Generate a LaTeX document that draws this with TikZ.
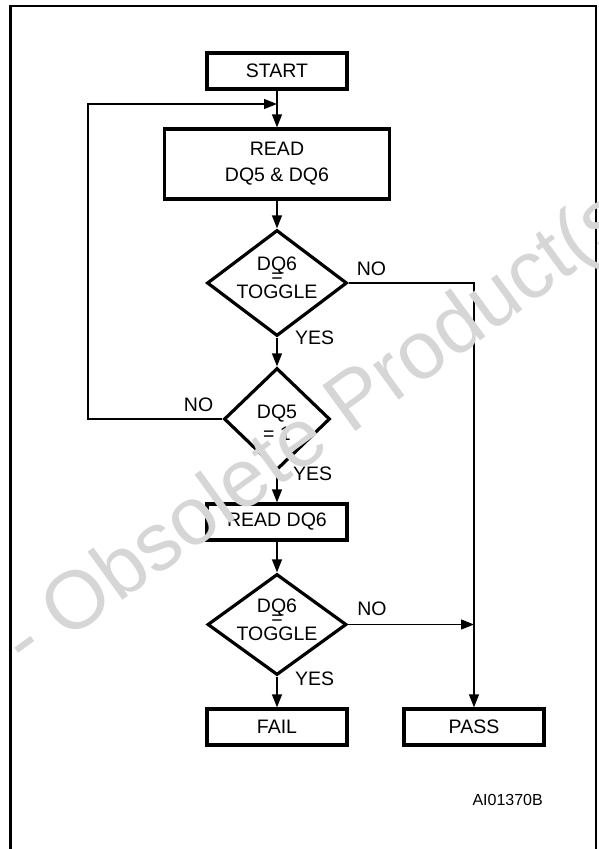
\documentclass[tikz,border=0pt]{standalone}
\usepackage{fontspec}
\setmainfont{Liberation Sans}
\definecolor{wmgray}{HTML}{D6D6D6}
\usetikzlibrary{arrows.meta, shapes.geometric}

\begin{document}
\begin{tikzpicture}[x=1pt, y=-1pt,
  font=\fontsize{19.5}{23.4}\selectfont,
  wire/.style={line width=1.3pt},
  flow/.style={wire, -{Triangle[length=13pt, width=10pt]}},
  stepbox/.style={draw, line width=3.2pt, minimum width=140pt, minimum height=36pt, inner sep=0pt, align=center},
  decision/.style={draw, diamond, line width=3.2pt, inner sep=0pt},
  dtext/.style={inner sep=0pt, align=center},
  lbl/.style={inner sep=0pt, anchor=base west}]
  \useasboundingbox (0,0) rectangle (599,849);
  \clip (0,0) rectangle (599,849);
  % frame
  \draw[line width=2.5pt] (10.5,860) -- (10.5,6) -- (596,6) -- (596,860);
  % boxes
  \node[stepbox] (start) at (277,71) {START};
  \node[stepbox, minimum width=225pt, minimum height=70pt, font=\fontsize{19.5}{26}\selectfont] (read) at (277,164) {READ\\DQ5 \& DQ6};
  \node[stepbox] (readb) at (277,522) {READ DQ6};
  \node[stepbox] (fail) at (277,727) {FAIL};
  \node[stepbox] (pass) at (474,727) {PASS};
  % decisions
  \node[decision, minimum width=140pt, minimum height=106pt] (tga) at (277,283) {};
  \node[dtext, yshift=5pt] (tgat) at (tga) {DQ6\\[-11.5pt]=\\[-7.5pt]TOGGLE};
  \node[decision, minimum width=106pt, minimum height=102pt] (dqf) at (277,419) {};
  \node[dtext, yshift=-4pt] (dqft) at (dqf) {DQ5\\[-1.4pt]= 1};
  \node[decision, minimum width=139pt, minimum height=101pt] (tgb) at (277,624.5) {};
  \node[dtext, yshift=5pt] (tgbt) at (tgb) {DQ6\\[-11.5pt]=\\[-7.5pt]TOGGLE};
  % connectors
  \coordinate (join) at (277,104);
  \coordinate (loopc) at (88,104);
  \draw[flow] (start.south) -- (read.north);
  \draw[flow] (dqf.west) -| (loopc) -- (join);
  \draw[flow] (read.south) -- (tga.north);
  \draw[flow] (tga.south) -- (dqf.north);
  \draw[flow] (tga.east) -| (pass.north);
  \draw[flow] (dqf.south) -- (readb.north);
  \draw[flow] (readb.south) -- (tgb.north);
  \draw[flow] (tgb.south) -- (fail.north);
  \draw[flow] (tgb.east) -- (tgb.east -| pass.north);
  % labels
  \node[lbl] (noa) at ([xshift=8pt, yshift=8pt]tga.east) {NO};
  \node[lbl] (yesa) at ([xshift=18pt, yshift=-7pt]tga.south) {YES};
  \node[lbl, anchor=base east] (nof) at ([xshift=-9pt, yshift=8pt]dqf.west) {NO};
  \node[lbl] (yesf) at ([xshift=16pt, yshift=-9pt]dqf.south) {YES};
  \node[lbl] (nob) at ([xshift=9pt, yshift=9pt]tgb.east) {NO};
  \node[lbl] (yesb) at ([xshift=18pt, yshift=-9pt]tgb.south) {YES};
  \node[inner sep=0pt, anchor=base east, font=\fontsize{16}{19}\selectfont] (code) at (543,805) {AI01370B};
  % watermark
  \node[wmgray, rotate=36, anchor=base west, inner sep=0pt, font=\fontsize{82}{98}\selectfont] (wm) at (26,671) {- Obsolete Product(s)};
\end{tikzpicture}
\end{document}
